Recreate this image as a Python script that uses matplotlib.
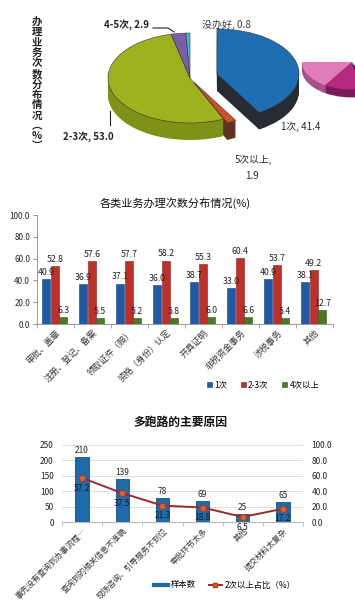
import numpy as np
import matplotlib
matplotlib.use("Agg")
import matplotlib.pyplot as plt
from matplotlib.lines import Line2D
from matplotlib.patches import Patch

plt.rcParams['font.family'] = ['Noto Sans CJK SC', 'DejaVu Sans']

# ---------------- data ----------------
pie_labels = ["1次", "5次以上", "2-3次", "4-5次", "没办好"]
pie_values = [41.4, 1.9, 53.0, 2.9, 0.8]
fragment_values = [16, 12, 2, 2, 68]

mid_categories = ["审批、盖章", "注册、登记、备案", "领取证件（照）", "资格（身份）认定",
                  "开具证明", "非税资金事务", "涉税事务", "其他"]
mid_once = [40.9, 36.9, 37.1, 36.0, 38.7, 33.0, 40.9, 38.1]
mid_two_three = [52.8, 57.6, 57.7, 58.2, 55.3, 60.4, 53.7, 49.2]
mid_four_plus = [6.3, 5.5, 5.2, 5.8, 6.0, 6.6, 5.4, 12.7]
mid_series = ["1次", "2-3次", "4次以上"]
mid_yticks = [0, 20, 40, 60, 80, 100]

bot_categories = ["事先没有查询到办事流程…", "查询到的相关信息不准确", "现场咨询、引导服务不到位",
                  "审批环节太多", "其他", "提交材料太复杂"]
bot_samples = [210, 139, 78, 69, 25, 65]
bot_share = [57.2, 37.5, 21.3, 18.8, 6.5, 17.2]
bot_left_ticks = [0, 50, 100, 150, 200, 250]
bot_right_ticks = [0, 20, 40, 60, 80, 100]

W, H = 355, 600
fig = plt.figure(figsize=(W / 100, H / 100), dpi=100)
fig.patch.set_facecolor('white')

# ---------------- top: 3D-looking pie ----------------
ax0 = fig.add_axes([0, 1 - 190 / H, 1, 190 / H])
ky = 45 / 82.0
def py(ypx):
    return (190 - ypx) / ky

top_cols = ['#1F6DB3', '#D24E26', '#9DB21E', '#7B5EA7', '#3FB4DE']
side_cols = ['#262B34', '#5E3323', '#7F9117', '#4D3A6C', '#2A7898']
explode = [28, 8, 0, 0, 0]
cx, cy = 190, py(78)
depth = 17
for i in range(depth, 0, -1):
    ax0.pie(pie_values, colors=side_cols, startangle=90, counterclock=False,
            explode=explode, radius=82, center=(cx, cy - i / ky), frame=True,
            wedgeprops=dict(linewidth=0))
ax0.pie(pie_values, colors=top_cols, startangle=90, counterclock=False,
        explode=explode, radius=82, center=(cx, cy), frame=True,
        wedgeprops=dict(linewidth=0.4, edgecolor='#3A3A3A'))

# fragment of another pie at the right edge
frag_top = ['#E07DB9', '#B42A80', '#5A1846', '#3A78B0', (1, 1, 1, 0)]
frag_side = ['#A8528A', '#7A1A5A', '#3A1030', '#2A5070', (1, 1, 1, 0)]
for i in range(8, 0, -1):
    ax0.pie(fragment_values, colors=frag_side, startangle=180, counterclock=True,
            radius=50, center=(352, py(62) - i / ky), frame=True,
            wedgeprops=dict(linewidth=0))
ax0.pie(fragment_values, colors=frag_top, startangle=180, counterclock=True,
        radius=50, center=(352, py(62)), frame=True, wedgeprops=dict(linewidth=0))

ax0.set_xlim(0, W)
ax0.set_ylim(0, 190 / ky)
ax0.set_aspect('auto')
ax0.axis('off')

# labels
ax0.text(127, py(25), f"{pie_labels[3]}, {pie_values[3]}", ha='center', va='center',
         fontsize=7, fontweight='bold', color='#222222')
ax0.plot([153, 168, 174], [py(28), py(28), py(32)], color='#222222', lw=0.8)
ax0.text(226, py(25), f"{pie_labels[4]}, {pie_values[4]}", ha='center', va='center',
         fontsize=7.2, color='#3A3A3A')
ax0.text(301, py(127), f"{pie_labels[0]}, {pie_values[0]}", ha='center', va='center',
         fontsize=7, color='#2A2A2A')
ax0.text(253, py(160), f"{pie_labels[1]},", ha='center', va='center',
         fontsize=7, color='#2A2A2A')
ax0.text(252, py(176), f"{pie_values[1]}", ha='center', va='center',
         fontsize=7, color='#2A2A2A')
ax0.text(88, py(137), f"{pie_labels[2]}, {pie_values[2]:.1f}", ha='center', va='center',
         fontsize=7, fontweight='bold', color='#222222')
ax0.plot([110, 110], [py(111), py(125)], color='#222222', lw=0.8)

ylab = "办理业务次数分布情况" + "︵%︶"
fig.text(37 / W, 1 - 84 / H, "\n".join(ylab), ha='center', va='center',
         fontsize=7.5, fontweight='bold', linespacing=1.04, color='#222222')

# ---------------- middle: grouped bars ----------------
ax1 = fig.add_axes([37 / W, 1 - 324 / H, (333 - 37) / W, (324 - 215) / H])
x = np.arange(len(mid_categories))
w = 0.225
cols = ['#1F5AA6', '#C0302A', '#4A7A22']
edges = ['#163F78', '#8A1E1A', '#33561A']
offs = [-0.26, -0.02, 0.21]
for vals, c, e, o in zip([mid_once, mid_two_three, mid_four_plus], cols, edges, offs):
    bars = ax1.bar(x + o, vals, w, color=c, edgecolor=e, linewidth=0.4)
    for b, v in zip(bars, vals):
        ax1.annotate(f"{v:.1f}", (b.get_x() + b.get_width() / 2, v),
                     xytext=(0, 1.5), textcoords='offset points', ha='center',
                     va='bottom', fontsize=6.3, color='#222222')
ax1.set_xlim(-0.5, len(mid_categories) - 0.5)
ax1.set_ylim(0, 100)
ax1.set_yticks(mid_yticks)
ax1.set_yticklabels([f"{v:.1f}" for v in mid_yticks], fontsize=5.8, color='#222222')
ax1.set_xticks(x)
ax1.set_xticklabels(mid_categories, rotation=45, ha='right', va='top',
                    rotation_mode='anchor', fontsize=6.3, color='#333333')
ax1.tick_params(axis='x', length=0, pad=3)
ax1.set_xticks(np.arange(-0.5, len(mid_categories), 1), minor=True)
ax1.tick_params(axis='x', which='minor', length=3, color='#999999')
ax1.tick_params(axis='y', length=3, color='#999999', pad=2)
for s in ['top', 'right']:
    ax1.spines[s].set_visible(False)
for s in ['left', 'bottom']:
    ax1.spines[s].set_color('#999999')
    ax1.spines[s].set_linewidth(0.7)
fig.text(175 / W, 1 - 203 / H, "各类业务办理次数分布情况(%)", ha='center', va='center',
         fontsize=8, color='#111111')
handles = [Patch(facecolor=c, edgecolor=e, linewidth=0.4) for c, e in zip(cols, edges)]
fig.legend(handles, mid_series, loc='center', bbox_to_anchor=(263 / W, 1 - 385 / H),
           ncol=3, frameon=False, fontsize=6, handlelength=0.6, handleheight=0.6,
           handletextpad=0.3, columnspacing=1.6)

# ---------------- bottom: bars + line ----------------
ax2 = fig.add_axes([62 / W, 1 - 522 / H, (303 - 62) / W, (522 - 445) / H])
x2 = np.arange(len(bot_categories))
bars2 = ax2.bar(x2, bot_samples, 0.33, color='#1F6AA8', edgecolor='#174E7E',
                linewidth=0.6, zorder=2)
for b, v in zip(bars2, bot_samples):
    ax2.annotate(f"{v}", (b.get_x() + b.get_width() / 2, v), xytext=(0, 1.5),
                 textcoords='offset points', ha='center', va='bottom',
                 fontsize=6, color='#222222')
ax2.set_xlim(-0.5, len(bot_categories) - 0.5)
ax2.set_ylim(0, 250)
ax2.set_yticks(bot_left_ticks)
ax2.set_yticklabels([str(v) for v in bot_left_ticks], fontsize=6, color='#222222')
ax2.grid(axis='y', color='#D9D9D9', lw=0.6, zorder=0)
ax2.set_axisbelow(True)
ax2.set_xticks(x2)
ax2.set_xticklabels(bot_categories, rotation=45, ha='right', va='top',
                    rotation_mode='anchor', fontsize=5.8, color='#333333')
ax2.tick_params(axis='x', length=0, pad=3)
ax2.set_xticks(np.arange(-0.5, len(bot_categories), 1), minor=True)
ax2.tick_params(axis='x', which='minor', length=3, color='#BBBBBB')
ax2.tick_params(axis='y', length=0, pad=6)
for s in ['top', 'right', 'left']:
    ax2.spines[s].set_visible(False)
ax2.spines['bottom'].set_color('#BBBBBB')

ax2r = ax2.twinx()
ax2r.plot(x2, bot_share, color='#9B2B2B', lw=1.4, marker='o', markersize=4.5,
          markerfacecolor='#E0602A', markeredgecolor='#B5361E', markeredgewidth=0.6,
          zorder=3)
for xi, v in zip(x2, bot_share):
    ax2r.annotate(f"{v}", (xi, v), xytext=(0, -4), textcoords='offset points',
                  ha='center', va='top', fontsize=6, color='#1A1A2A')
ax2r.set_ylim(0, 100)
ax2r.set_yticks(bot_right_ticks)
ax2r.set_yticklabels([f"{v:.1f}" for v in bot_right_ticks], fontsize=6, color='#222222')
ax2r.tick_params(axis='y', length=0, pad=6)
for s in ['top', 'right', 'left', 'bottom']:
    ax2r.spines[s].set_visible(False)

fig.text(180 / W, 1 - 422 / H, "多跑路的主要原因", ha='center', va='center',
         fontsize=8.5, fontweight='bold', color='#111111')
h_bar = Line2D([0], [0], color='#1F6AA8', lw=3)
h_line = Line2D([0], [0], color='#9B2B2B', lw=1.4, marker='s', markersize=3.5,
                markerfacecolor='#E0602A', markeredgecolor='#B5361E')
fig.legend([h_bar, h_line], ["样本数", "2次以上占比（%）"], loc='center',
           bbox_to_anchor=(225 / W, 1 - 585 / H), ncol=2, frameon=False, fontsize=6,
           handlelength=1.6, handletextpad=0.3, columnspacing=1.6)

fig.savefig("out.png", dpi=100, facecolor='white')
